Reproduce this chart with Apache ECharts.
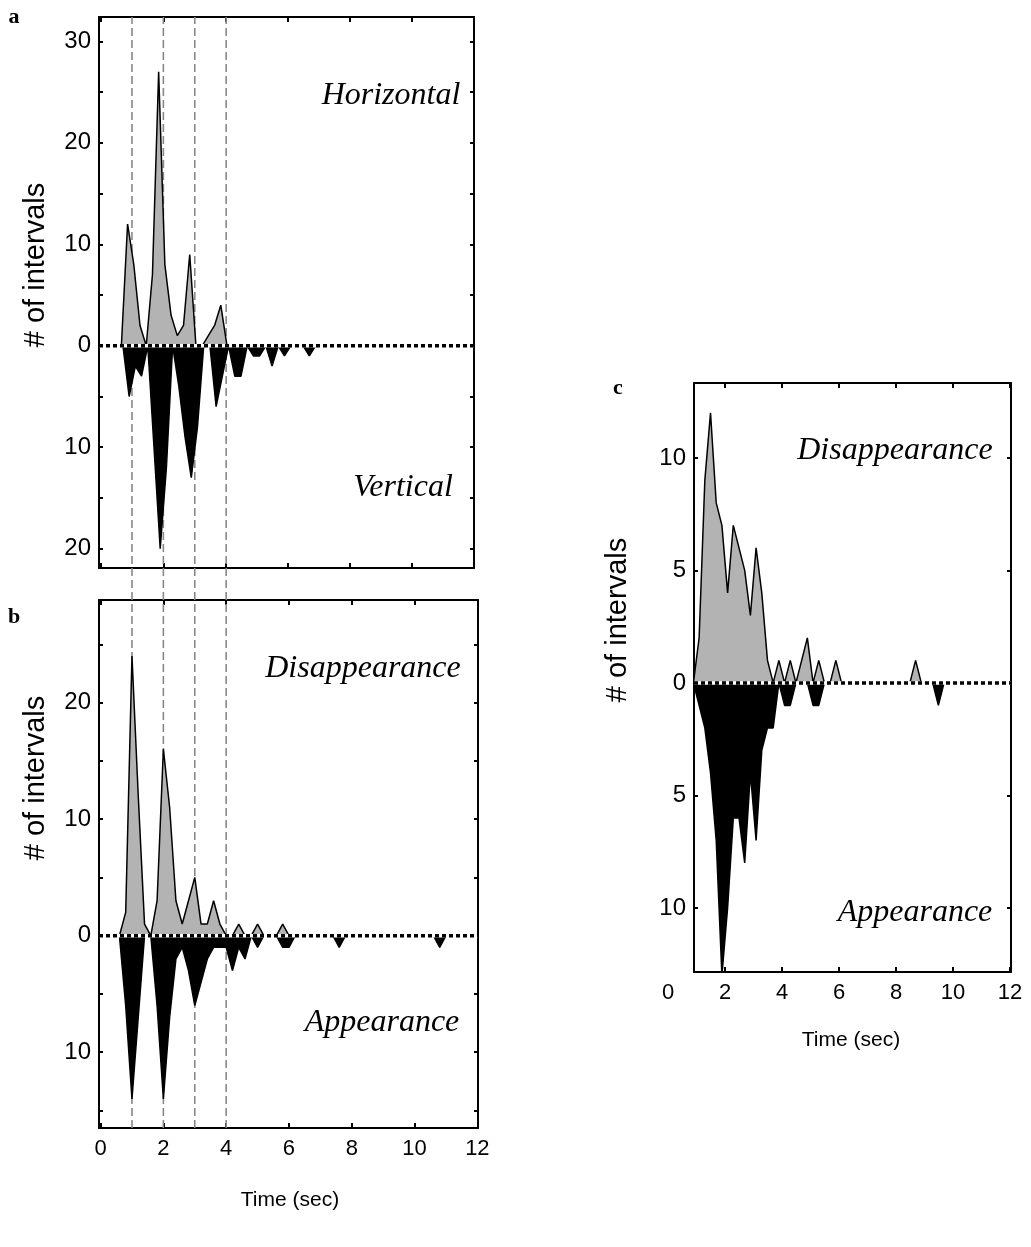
<!DOCTYPE html>
<html><head><meta charset="utf-8">
<script src="https://cdn.jsdelivr.net/npm/echarts@6/dist/echarts.min.js"></script>
<style>html,body{margin:0;padding:0;background:#fff}#c{width:1031px;height:1247px}</style>
</head><body><div id="c"></div>
<script>
// ---- Panel a (Horizontal above, Vertical below) ----
const timeA_h = [0.45,0.65,0.85,1.05,1.25,1.45,1.65,1.85,2.05,2.25,2.45,2.65,2.85,3.05,3.25,3.45,3.65,3.85,4.05,4.25];
const horizA  = [0,   0,   12,  8,   2,   0,   7,   27,  8,   3,   1,   2,   9,   0,   0,   1,   2,   4,   0,   0];
const timeA_v = [0.5,0.7,0.9,1.1,1.3,1.5,1.7,1.9,2.1,2.3,2.5,2.7,2.9,3.1,3.3,3.5,3.7,3.9,4.1,4.3,4.5,4.7,4.9,5.1,5.3,5.5,5.7,5.9,6.1,6.3,6.5,6.7,6.9,7.1];
const vertA   = [0,  0,  5,  2,  3,  0,  10, 20, 12, 0,  4,  9,  13, 8,  0,  0,  6,  3,  0,  3,  3,  0,  1,  1,  0,  2,  0,  1,  0,  0,  0,  1,  0,  0];
// ---- Panel b (Disappearance above, Appearance below) ----
const timeB = [0.4,0.6,0.8,1.0,1.2,1.4,1.6,1.8,2.0,2.2,2.4,2.6,2.8,3.0,3.2,3.4,3.6,3.8,4.0,4.2,4.4,4.6,4.8,5.0,5.2,5.4,5.6,5.8,6.0,6.2,6.4,6.6,6.8,7.0,7.2,7.4,7.6,7.8,8.0,8.2,8.4,8.6,8.8,9.0,9.2,9.4,9.6,9.8,10.0,10.2,10.4,10.6,10.8,11.0,11.2];
const dispB = [0,  0,  2,  24, 12, 1,  0,  3,  16, 11, 3,  1,  3,  5,  1,  1,  3,  1,  0,  0,  1,  0,  0,  1,  0,  0,  0,  1,  0,  0,  0,  0,  0,  0,  0,  0,  0,  0,  0,  0,  0,  0,  0,  0,  0,  0,  0,  0,  0,   0,   0,   0,   0,   0,   0];
const apprB = [0,  0,  6,  14, 7,  0,  0,  6,  14, 7,  2,  1,  3,  6,  4,  2,  1,  1,  1,  3,  1,  2,  0,  1,  0,  0,  0,  1,  1,  0,  0,  0,  0,  0,  0,  0,  1,  0,  0,  0,  0,  0,  0,  0,  0,  0,  0,  0,  0,   0,   0,   0,   1,   0,   0];
// ---- Panel c (Disappearance above, Appearance below) ----
const timeC = [0.9,1.1,1.3,1.5,1.7,1.9,2.1,2.3,2.5,2.7,2.9,3.1,3.3,3.5,3.7,3.9,4.1,4.3,4.5,4.7,4.9,5.1,5.3,5.5,5.7,5.9,6.1,6.3,6.5,6.7,6.9,7.1,7.3,7.5,7.7,7.9,8.1,8.3,8.5,8.7,8.9,9.1,9.3,9.5,9.7,9.9];
const dispC = [0,  2,  9,  12, 8,  7,  4,  7,  6,  5,  3,  6,  4,  1,  0,  1,  0,  1,  0,  1,  2,  0,  1,  0,  0,  1,  0,  0,  0,  0,  0,  0,  0,  0,  0,  0,  0,  0,  0,  1,  0,  0,  0,  0,  0,  0];
const apprC = [0,  1,  2,  4,  7,  13, 10, 6,  6,  8,  4,  7,  3,  2,  2,  0,  1,  1,  0,  0,  0,  1,  1,  0,  0,  0,  0,  0,  0,  0,  0,  0,  0,  0,  0,  0,  0,  0,  0,  0,  0,  0,  0,  1,  0,  0];
// ---- reference lines & ticks ----
const markTimes = [1,2,3,4];
const xTickVals = [0,2,4,6,8,10,12];
const xTickValsC = [2,4,6,8,10,12];
const yTicksA = [-20,-15,-10,-5,0,5,10,15,20,25,30];
const yLabelsA = [-20,-10,0,10,20,30];
const yTicksB = [-15,-10,-5,0,5,10,15,20,25];
const yLabelsB = [-10,0,10,20];
const yTicksC = [-10,-5,0,5,10];
const yLabelsC = [-10,-5,0,5,10];

const SANS = 'Liberation Sans';
const SERIF = 'Liberation Serif';
const GRAY = '#b3b3b3';

const grids = [
  {left:99, top:17, width:375, height:551},   // a
  {left:99, top:600, width:379, height:528},  // b
  {left:694, top:383, width:317, height:589}, // c
  {left:99, top:17, width:379, height:1111},  // dashed overlay
  {left:668, top:383, width:342, height:589}  // c labels
];
const ranges = [
  {x:[-0.07,12.0], y:[-21.9,32.4]},
  {x:[-0.05,12.02], y:[-16.5,28.8]},
  {x:[0.92,12.05], y:[-12.85,13.33]},
  {x:[-0.05,12.02], y:[0,1]},
  {x:[0,12], y:[0,1]}
];
const tickStyle = {color:'#000', width:2};
const xAxes = [], yAxes = [];
function addBox(gi, xTicks, xLabels, yTicks, yLabels) {
  const r = ranges[gi];
  xAxes.push({type:'value', gridIndex:gi, position:'bottom', min:r.x[0], max:r.x[1],
    axisLine:{show:true, onZero:false, lineStyle:{color:'#000', width:2}},
    axisTick:{show:true, inside:true, length:5, lineStyle:tickStyle, customValues:xTicks},
    axisLabel:{show:!!xLabels, customValues:xLabels||[], fontFamily:SANS, fontSize:22, color:'#000', margin:10},
    splitLine:{show:false}});
  xAxes.push({type:'value', gridIndex:gi, position:'top', min:r.x[0], max:r.x[1],
    axisLine:{show:true, onZero:false, lineStyle:{color:'#000', width:2}},
    axisTick:{show:true, inside:true, length:5, lineStyle:tickStyle, customValues:xTicks},
    axisLabel:{show:false}, splitLine:{show:false}});
  yAxes.push({type:'value', gridIndex:gi, position:'left', min:r.y[0], max:r.y[1],
    axisLine:{show:true, onZero:false, lineStyle:{color:'#000', width:2}},
    axisTick:{show:true, inside:true, length:4, lineStyle:tickStyle, customValues:yTicks},
    axisLabel:{show:true, customValues:yLabels, formatter:v=>String(Math.abs(v)), fontFamily:SANS, fontSize:24, color:'#000', margin:8},
    splitLine:{show:false}});
  yAxes.push({type:'value', gridIndex:gi, position:'right', min:r.y[0], max:r.y[1],
    axisLine:{show:true, onZero:false, lineStyle:{color:'#000', width:2}},
    axisTick:{show:true, inside:true, length:4, lineStyle:tickStyle, customValues:yTicks},
    axisLabel:{show:false}, splitLine:{show:false}});
}
addBox(0, xTickVals, null, yTicksA, yLabelsA);       // x 0,1  y 0,1
addBox(1, xTickVals, xTickVals, yTicksB, yLabelsB);  // x 2,3  y 2,3
addBox(2, xTickValsC, null, yTicksC, yLabelsC);      // x 4,5  y 4,5
// overlay for dashed lines (x 6, y 6)
xAxes.push({type:'value', gridIndex:3, min:ranges[3].x[0], max:ranges[3].x[1], show:false});
yAxes.push({type:'value', gridIndex:3, min:0, max:1, show:false});
// label-only axis for panel c (x 7, y 7)
xAxes.push({type:'value', gridIndex:4, position:'bottom', min:0, max:12,
  axisLine:{show:false}, axisTick:{show:false}, splitLine:{show:false},
  axisLabel:{show:true, customValues:xTickVals, fontFamily:SANS, fontSize:22, color:'#000', margin:10}});
yAxes.push({type:'value', gridIndex:4, min:0, max:1, show:false});

const series = [];
function area(xi, yi, ts, vs, sign, fill) {
  series.push({type:'line', xAxisIndex:xi, yAxisIndex:yi, data:ts.map((t,i)=>[t, sign*vs[i]]),
    symbol:'none', silent:true, animation:false, clip:true, z:2,
    lineStyle:{color:'#000', width:1.5}, areaStyle:{color:fill, opacity:1}});
}
function zeroLine(xi, yi, r) {
  series.push({type:'line', xAxisIndex:xi, yAxisIndex:yi, data:[[r[0],0],[r[1],0]], symbol:'none', silent:true, animation:false, z:4,
    lineStyle:{color:'#fff', width:3.5}});
  series.push({type:'line', xAxisIndex:xi, yAxisIndex:yi, data:[[r[0],0],[r[1],0]], symbol:'none', silent:true, animation:false, z:5,
    lineStyle:{color:'#000', width:3.5, type:[4,3]}});
}
// dashed time markers
markTimes.forEach(t => series.push({type:'line', xAxisIndex:6, yAxisIndex:6, data:[[t,0],[t,1]], symbol:'none', silent:true, animation:false, z:1,
  lineStyle:{color:'#888888', width:1.6, type:[8,4]}}));
area(0, 0, timeA_h, horizA, 1, GRAY);
area(0, 0, timeA_v, vertA, -1, '#000');
zeroLine(0, 0, ranges[0].x);
area(2, 2, timeB, dispB, 1, GRAY);
area(2, 2, timeB, apprB, -1, '#000');
zeroLine(2, 2, ranges[1].x);
area(4, 4, timeC, dispC, 1, GRAY);
area(4, 4, timeC, apprC, -1, '#000');
zeroLine(4, 4, ranges[2].x);

function txt(x, y, s, font, rot) {
  return {type:'text', x:x, y:y, rotation:rot||0, silent:true,
    style:{text:s, font:font, fill:'#000', textAlign:'center', textVerticalAlign:'middle'}};
}
const ital = 'italic 32px "' + SERIF + '"';
const bold = 'bold 22px "' + SERIF + '"';
const yTitle = '29px "' + SANS + '"';
const xTitle = '21px "' + SANS + '"';
const graphic = [
  txt(14, 17, 'a', bold), txt(14, 617, 'b', bold), txt(618, 388, 'c', bold),
  txt(36, 265, '# of intervals', yTitle, Math.PI/2),
  txt(36, 778, '# of intervals', yTitle, Math.PI/2),
  txt(618, 620, '# of intervals', yTitle, Math.PI/2),
  txt(391, 96, 'Horizontal', ital), txt(403, 488, 'Vertical', ital),
  txt(363, 669, 'Disappearance', ital), txt(382, 1023, 'Appearance', ital),
  txt(895, 451, 'Disappearance', ital), txt(915, 913, 'Appearance', ital),
  txt(290, 1200, 'Time (sec)', xTitle), txt(851, 1040, 'Time (sec)', xTitle)
];

const chart = echarts.init(document.getElementById('c'), null, {renderer:'canvas'});
chart.setOption({
  animation:false, backgroundColor:'#fff',
  grid: grids.map(g => Object.assign({containLabel:false, outerBoundsMode:'none'}, g)),
  xAxis:xAxes, yAxis:yAxes, series:series, graphic:graphic
});
</script></body></html>
